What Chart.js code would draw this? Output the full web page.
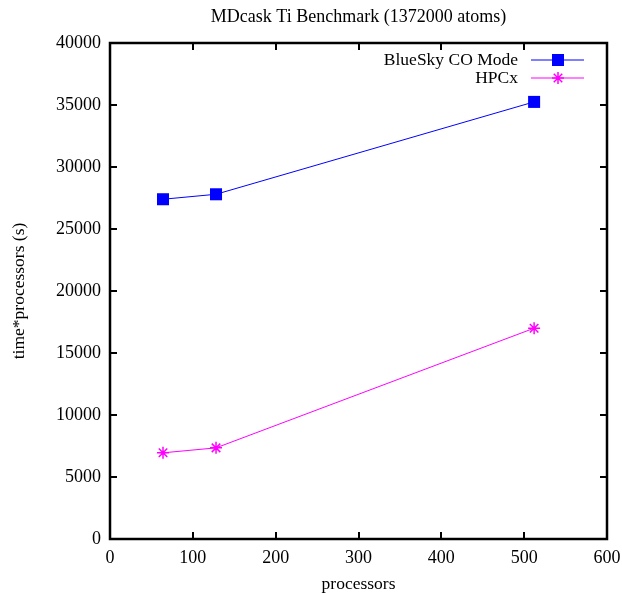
<!DOCTYPE html>
<html>
<head>
<meta charset="utf-8">
<script src="https://cdn.jsdelivr.net/npm/chart.js@4"></script>
<style>
  html, body { margin: 0; padding: 0; background: #fff; }
  #wrap { width: 622px; height: 593px; }
</style>
</head>
<body>
<div id="wrap"><canvas id="benchChart"></canvas></div>
<script>
const chartTitle = 'MDcask Ti Benchmark (1372000 atoms)';
const processors = [64, 128, 512];
const blueSky = [27400, 27800, 35250];
const hpcx = [6950, 7350, 17000];
const xTicks = [0, 100, 200, 300, 400, 500, 600];
const yTicks = [0, 5000, 10000, 15000, 20000, 25000, 30000, 35000, 40000];

const serif = "'Liberation Serif', 'DejaVu Serif', serif";

// gnuplot-like frame: ticks pointing inward on all four sides
const innerTicks = {
  id: 'innerTicks',
  afterDraw(chart) {
    const { ctx, chartArea: a, scales } = chart;
    const len = 7;
    ctx.save();
    ctx.strokeStyle = '#000';
    ctx.lineWidth = 2;
    ctx.beginPath();
    xTicks.forEach(v => {
      const px = Math.round(scales.x.getPixelForValue(v));
      ctx.moveTo(px, a.bottom); ctx.lineTo(px, a.bottom - len);
      ctx.moveTo(px, a.top); ctx.lineTo(px, a.top + len);
    });
    yTicks.forEach(v => {
      const py = Math.round(scales.y.getPixelForValue(v));
      ctx.moveTo(a.left, py); ctx.lineTo(a.left + len, py);
      ctx.moveTo(a.right, py); ctx.lineTo(a.right - len, py);
    });
    ctx.stroke();
    ctx.lineWidth = 2.5;
    ctx.strokeRect(a.left, a.top, a.right - a.left, a.bottom - a.top);
    ctx.restore();
  }
};

// title above the frame and key in the top-right corner
const keyAndTitle = {
  id: 'keyAndTitle',
  afterDraw(chart) {
    const { ctx, chartArea: a } = chart;
    ctx.save();
    ctx.fillStyle = '#000';
    ctx.font = '18px ' + serif;
    ctx.textAlign = 'center';
    ctx.textBaseline = 'middle';
    ctx.fillText(chartTitle, (a.left + a.right) / 2, 17);

    ctx.font = '17.5px ' + serif;
    ctx.textAlign = 'right';
    chart.data.datasets.forEach((ds, i) => {
      const y = a.top + 17 + i * 18;
      ctx.fillStyle = '#000';
      ctx.fillText(ds.label, a.right - 89, y);
      ctx.strokeStyle = ds.borderColor;
      ctx.lineWidth = 1;
      ctx.beginPath();
      ctx.moveTo(a.right - 76, y);
      ctx.lineTo(a.right - 23, y);
      ctx.stroke();
      ctx.fillStyle = ds.pointBackgroundColor;
      ctx.strokeStyle = ds.pointBorderColor;
      ctx.lineWidth = ds.pointBorderWidth;
      Chart.helpers.drawPoint(ctx, {
        pointStyle: ds.pointStyle, radius: ds.pointRadius, rotation: 0, borderWidth: ds.pointBorderWidth
      }, a.right - 49, y);
    });
    ctx.restore();
  }
};

const toXY = vals => processors.map((p, i) => ({ x: p, y: vals[i] }));

new Chart(document.getElementById('benchChart'), {
  type: 'scatter',
  data: {
    datasets: [{
      label: 'BlueSky CO Mode',
      data: toXY(blueSky),
      showLine: true,
      borderColor: '#0000ff',
      borderWidth: 1,
      pointStyle: 'rect',
      pointRadius: 8.5,
      pointBackgroundColor: '#0000ff',
      pointBorderColor: '#0000ff',
      pointBorderWidth: 0
    }, {
      label: 'HPCx',
      data: toXY(hpcx),
      showLine: true,
      borderColor: '#ff00ff',
      borderWidth: 1,
      pointStyle: 'star',
      pointRadius: 6,
      pointBackgroundColor: '#ff00ff',
      pointBorderColor: '#ff00ff',
      pointBorderWidth: 1.5
    }]
  },
  options: {
    responsive: true,
    maintainAspectRatio: false,
    animation: false,
    layout: { padding: { top: 43, right: 15, left: 0, bottom: 0 } },
    plugins: {
      legend: { display: false },
      title: { display: false },
      tooltip: { enabled: false }
    },
    scales: {
      x: {
        type: 'linear',
        min: 0,
        max: 600,
        afterBuildTicks: s => { s.ticks = xTicks.map(v => ({ value: v })); },
        afterFit: s => { s.height = 54; s.paddingLeft = 0; s.paddingRight = 0; },
        grid: { display: false, drawTicks: false },
        border: { display: false },
        ticks: { color: '#000', padding: 8, callback: v => String(v), font: { family: serif, size: 18 } },
        title: {
          display: true,
          text: 'processors',
          color: '#000',
          padding: 0,
          font: { family: serif, size: 17.5, lineHeight: 1 }
        }
      },
      y: {
        min: 0,
        max: 40000,
        afterBuildTicks: s => { s.ticks = yTicks.map(v => ({ value: v })); },
        afterFit: s => { s.width = 110; s.paddingTop = 0; s.paddingBottom = 0; },
        grid: { display: false, drawTicks: false },
        border: { display: false },
        ticks: { color: '#000', padding: 9, callback: v => String(v), font: { family: serif, size: 18 } },
        title: {
          display: true,
          text: 'time*processors (s)',
          color: '#000',
          padding: { top: 9, bottom: 0 },
          font: { family: serif, size: 17.5 }
        }
      }
    }
  },
  plugins: [innerTicks, keyAndTitle]
});
</script>
</body>
</html>
